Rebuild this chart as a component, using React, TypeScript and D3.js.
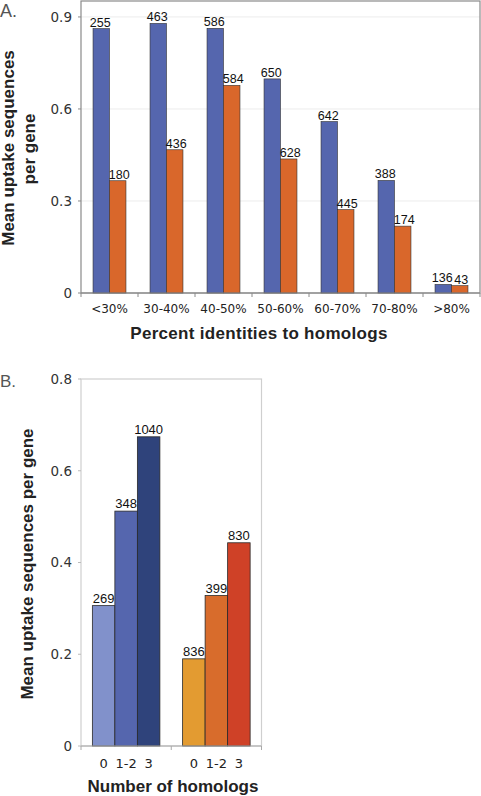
import React from "react";
import * as d3 from "d3";

// Panel A data
const identityCats = ["<30%", "30-40%", "40-50%", "50-60%", "60-70%", "70-80%", ">80%"];
const seriesKeysA = ["blue", "orange"];
const blueValuesA = [0.862, 0.879, 0.863, 0.698, 0.559, 0.367, 0.028];
const orangeValuesA = [0.366, 0.467, 0.677, 0.437, 0.272, 0.218, 0.024];
const blueCountsA = ["255", "463", "586", "650", "642", "388", "136"];
const orangeCountsA = ["180", "436", "584", "628", "445", "174", "43"];
const ticksA = [0, 0.3, 0.6, 0.9];
const tickLabelsA = ["0", "0.3", "0.6", "0.9"];

// Panel B data
const groupsB = ["blue", "orange"];
const homologCats = ["0", "1-2", "3"];
const blueValuesB = [0.306, 0.512, 0.674];
const orangeValuesB = [0.19, 0.328, 0.443];
const blueCountsB = ["269", "348", "1040"];
const orangeCountsB = ["836", "399", "830"];
const ticksB = [0, 0.2, 0.4, 0.6, 0.8];
const tickLabelsB = ["0", "0.2", "0.4", "0.6", "0.8"];

const colorsA: Record<string, string> = { blue: "#5566ae", orange: "#d9672b" };
const colorsB: Record<string, string[]> = {
  blue: ["#8191cb", "#5566ae", "#2f437b"],
  orange: ["#e39b31", "#d86c2c", "#cf4127"],
};

const SANS = "'Liberation Sans', Arial, sans-serif";
const TICKF = "'DejaVu Sans', Verdana, sans-serif";

export default function App() {
  // Panel A layout
  const aLeft = 81, aRight = 480, aTop = 1, aBottom = 293;
  const yA = d3.scaleLinear().domain([0, 0.952]).range([aBottom, aTop]);
  const xA = d3.scaleBand<string>().domain(identityCats).range([aLeft, aRight]);
  const xAin = d3.scaleBand<string>().domain(seriesKeysA).range([0, xA.bandwidth()]).paddingOuter(0.73).paddingInner(0);

  // Panel B layout
  const bLeft = 81, bRight = 261.5, bTop = 379, bBottom = 746;
  const yB = d3.scaleLinear().domain([0, 0.8]).range([bBottom, bTop]);
  const xB = d3.scaleBand<string>().domain(groupsB).range([bLeft, bRight]);
  const xBin = d3.scaleBand<string>().domain(homologCats).range([0, xB.bandwidth()]).paddingOuter(0.505).paddingInner(0);

  const seriesA = [
    { key: "blue", values: blueValuesA, counts: blueCountsA, nudge: -1 },
    { key: "orange", values: orangeValuesA, counts: orangeCountsA, nudge: 1.5 },
  ];
  const seriesB = [
    { key: "blue", values: blueValuesB, counts: blueCountsB },
    { key: "orange", values: orangeValuesB, counts: orangeCountsB },
  ];

  const boundariesA = [...identityCats.map((c) => xA(c)!), aRight];
  const boundariesB = [...groupsB.map((g) => xB(g)!), bRight];

  return (
    <>
      <style>{`body{margin:0;}`}</style>
      <svg width={481} height={796} style={{ display: "block", background: "#fff" }}>
        {/* ===== Panel A ===== */}
        <text x={0} y={17} fontFamily={SANS} fontSize={18} fill="#555">A.</text>
        {ticksA.filter((t) => t > 0).map((t) => (
          <line key={"ga" + t} x1={aLeft} x2={aRight} y1={yA(t)} y2={yA(t)} stroke="#ececec" strokeWidth={1} />
        ))}
        <rect x={aLeft} y={aTop} width={aRight - aLeft} height={aBottom - aTop} fill="none" stroke="#8a8a8a" strokeWidth={1.2} />
        {ticksA.map((t, i) => (
          <g key={"ta" + t}>
            <line x1={aLeft - 3} x2={aLeft} y1={yA(t)} y2={yA(t)} stroke="#8a8a8a" />
            <text x={72} y={yA(t)} dy="0.36em" textAnchor="end" fontFamily={TICKF} fontSize={13.5} fill="#333">{tickLabelsA[i]}</text>
          </g>
        ))}
        {boundariesA.map((b, i) => (
          <line key={"xa" + i} x1={b} x2={b} y1={aBottom} y2={aBottom + 4} stroke="#8a8a8a" />
        ))}
        {seriesA.map((s) =>
          s.values.map((v, i) => {
            const x = xA(identityCats[i])! + xAin(s.key)!;
            const w = xAin.bandwidth();
            return (
              <g key={s.key + i}>
                <rect x={x} y={yA(v)} width={w} height={yA(0) - yA(v)} fill={colorsA[s.key]} stroke="#333" strokeWidth={0.6} />
                <text x={x + w / 2 + s.nudge} y={yA(v) - 2} textAnchor="middle" fontFamily={SANS} fontSize={12.5} fill="#111">{s.counts[i]}</text>
              </g>
            );
          })
        )}
        <line x1={aLeft} x2={aRight} y1={aBottom} y2={aBottom} stroke="#8a8a8a" strokeWidth={1.2} />
        {identityCats.map((c) => (
          <text key={"la" + c} x={xA(c)! + xA.bandwidth() / 2} y={313} textAnchor="middle" fontFamily={TICKF} fontSize={12} fill="#222">{c}</text>
        ))}
        <text x={259} y={339} textAnchor="middle" fontFamily={SANS} fontWeight="bold" fontSize={17} letterSpacing={0.3} fill="#222">Percent identities to homologs</text>
        <text transform={`translate(14,148) rotate(-90)`} textAnchor="middle" fontFamily={SANS} fontWeight="bold" fontSize={17} fill="#222">Mean uptake sequences</text>
        <text transform={`translate(35,149) rotate(-90)`} textAnchor="middle" fontFamily={SANS} fontWeight="bold" fontSize={17} fill="#222">per gene</text>

        {/* ===== Panel B ===== */}
        <text x={0} y={387} fontFamily={SANS} fontSize={17} fill="#555">B.</text>
        <rect x={bLeft} y={bTop} width={bRight - bLeft} height={bBottom - bTop} fill="none" stroke="#cfcfcf" strokeWidth={1.2} />
        {ticksB.map((t, i) => (
          <g key={"tb" + t}>
            <line x1={bLeft - 3} x2={bLeft} y1={yB(t)} y2={yB(t)} stroke="#bbb" />
            <text x={72} y={yB(t)} dy="0.36em" textAnchor="end" fontFamily={TICKF} fontSize={13.5} fill="#333">{tickLabelsB[i]}</text>
          </g>
        ))}
        {boundariesB.map((b, i) => (
          <line key={"xb" + i} x1={b} x2={b} y1={bBottom} y2={bBottom + 4} stroke="#aaa" />
        ))}
        {seriesB.map((s) =>
          s.values.map((v, i) => {
            const x = xB(s.key)! + xBin(homologCats[i])!;
            const w = xBin.bandwidth();
            return (
              <g key={"b" + s.key + i}>
                <rect x={x} y={yB(v)} width={w} height={yB(0) - yB(v)} fill={colorsB[s.key][i]} stroke="#2a2a2a" strokeWidth={0.8} />
                <text x={x + w / 2} y={yB(v) - 3} textAnchor="middle" fontFamily={SANS} fontSize={13} fill="#111">{s.counts[i]}</text>
                <text x={x + w / 2} y={768} textAnchor="middle" fontFamily={TICKF} fontSize={13} fill="#222">{homologCats[i]}</text>
              </g>
            );
          })
        )}
        <line x1={bLeft} x2={bRight} y1={bBottom} y2={bBottom} stroke="#aaa" strokeWidth={1.2} />
        <text x={173} y={792} textAnchor="middle" fontFamily={SANS} fontWeight="bold" fontSize={17} fill="#222">Number of homologs</text>
        <text transform={`translate(33,564) rotate(-90)`} textAnchor="middle" fontFamily={SANS} fontWeight="bold" fontSize={17} fill="#222">Mean uptake sequences per gene</text>
      </svg>
    </>
  );
}
